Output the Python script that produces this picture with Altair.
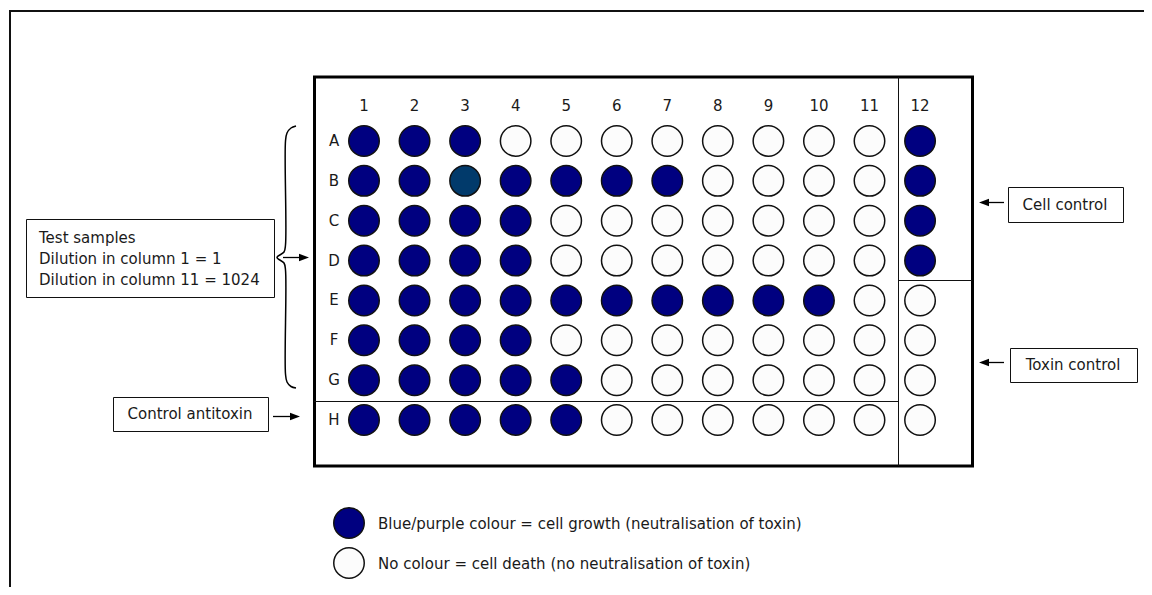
import altair as alt
import pandas as pd

# ---------------- data ----------------
rows = ["A", "B", "C", "D", "E", "F", "G", "H"]
cols = [1, 2, 3, 4, 5, 6, 7, 8, 9, 10, 11, 12]
# 1 = blue/purple (cell growth), 2 = darker teal-blue well, 0 = no colour
row_A = [1, 1, 1, 0, 0, 0, 0, 0, 0, 0, 0, 1]
row_B = [1, 1, 2, 1, 1, 1, 1, 0, 0, 0, 0, 1]
row_C = [1, 1, 1, 1, 0, 0, 0, 0, 0, 0, 0, 1]
row_D = [1, 1, 1, 1, 0, 0, 0, 0, 0, 0, 0, 1]
row_E = [1, 1, 1, 1, 1, 1, 1, 1, 1, 1, 0, 0]
row_F = [1, 1, 1, 1, 0, 0, 0, 0, 0, 0, 0, 0]
row_G = [1, 1, 1, 1, 1, 0, 0, 0, 0, 0, 0, 0]
row_H = [1, 1, 1, 1, 1, 0, 0, 0, 0, 0, 0, 0]
plate = [row_A, row_B, row_C, row_D, row_E, row_F, row_G, row_H]

state_names = ["none", "growth", "growth_dark"]
state_colors = ["#fcfcfc", "#000080", "#013a6b"]

test_lines = ["Test samples", "Dilution in column 1 = 1", "Dilution in column 11 = 1024"]
label_antitoxin = "Control antitoxin"
label_cell = "Cell control"
label_toxin = "Toxin control"
legend_texts = ["Blue/purple colour = cell growth (neutralisation of toxin)",
                "No colour = cell death (no neutralisation of toxin)"]
legend_states = ["growth", "none"]

FONT = "DejaVu Sans"
FS = 15
TXT = "#1a1a1a"

# ---------------- layout helpers (page pixel -> plate units) ----------------
C0, CW = 313.45, 50.55   # column unit
R0, RH = 141.0, 39.86    # row unit


def X(px):
    return (px - C0) / CW


def Y(py):
    return (py - R0) / RH


W, H = 1136, 579
xs = alt.Scale(domain=[X(8), X(8 + W)], nice=False, zero=False)
ys = alt.Scale(domain=[Y(8), Y(8 + H)], nice=False, zero=False, reverse=True)


def xq(f="x"):
    return alt.X(f"{f}:Q", scale=xs, axis=None)


def yq(f="y"):
    return alt.Y(f"{f}:Q", scale=ys, axis=None)


# ---------------- tables ----------------
wells = pd.DataFrame([
    {"col": c, "row": ri, "state": state_names[plate[ri][ci]]}
    for ri in range(len(rows)) for ci, c in enumerate(cols)
])

col_lab = pd.DataFrame({"x": cols, "y": [Y(106)] * len(cols), "t": [str(c) for c in cols]})
row_lab = pd.DataFrame({"x": [X(334)] * len(rows), "y": list(range(len(rows))), "t": rows})

frame = pd.DataFrame({"x": [X(10)], "x2": [X(1300)], "y": [Y(11)], "y2": [Y(700)]})
plate_rect = pd.DataFrame({"x": [X(314.5)], "x2": [X(972.5)], "y": [Y(77)], "y2": [Y(466)]})
boxes = pd.DataFrame({
    "x": [X(26.5), X(113.5), X(1008.5), X(1010.5)],
    "x2": [X(274.5), X(268.5), X(1123.5), X(1137.5)],
    "y": [Y(219.5), Y(397.5), Y(187.5), Y(348.5)],
    "y2": [Y(297.5), Y(431.5), Y(222.5), Y(382.5)],
})

dividers = pd.DataFrame({
    "x": [X(898.5), X(898.5), X(314)],
    "x2": [X(898.5), X(972), X(898.5)],
    "y": [Y(77), Y(280.5), Y(401.5)],
    "y2": [Y(466), Y(280.5), Y(401.5)],
})

shafts = pd.DataFrame({
    "x": [X(283), X(273), X(987), X(987)],
    "x2": [X(301), X(292), X(1004), X(1004)],
    "y": [Y(257.5), Y(416.5), Y(202.5), Y(362.5)],
    "y2": [Y(257.5), Y(416.5), Y(202.5), Y(362.5)],
})
heads_r = pd.DataFrame({"x": [X(304), X(295)], "y": [Y(257.5), Y(416.5)]})
heads_l = pd.DataFrame({"x": [X(984), X(984)], "y": [Y(202.5), Y(362.5)]})

brace_px = [(296, 126), (291, 128), (287, 133), (285.5, 141), (285.5, 245),
            (284, 252), (277, 257.5), (284, 263), (285.5, 270), (285.5, 374),
            (287, 382), (291, 386.5), (296, 388)]
brace = pd.DataFrame({"x": [X(a) for a, b in brace_px], "y": [Y(b) for a, b in brace_px],
                      "o": list(range(len(brace_px)))})

test_txt = pd.DataFrame({"x": [X(39)] * 3, "y": [Y(238), Y(259), Y(280)], "t": test_lines})
box_txt = pd.DataFrame({"x": [X(190), X(1065), X(1073)],
                        "y": [Y(414), Y(205), Y(365)],
                        "t": [label_antitoxin, label_cell, label_toxin]})

leg_pts = pd.DataFrame({"x": [X(349), X(349)], "y": [Y(523), Y(563)], "state": legend_states})
leg_txt = pd.DataFrame({"x": [X(378), X(378)], "y": [Y(524), Y(564)], "t": legend_texts})

color_scale = alt.Scale(domain=state_names, range=state_colors)

# ---------------- layers ----------------
l_frame = alt.Chart(frame).mark_rect(fill="white", stroke="#111", strokeWidth=2, clip=True).encode(
    x=xq(), x2="x2", y=yq(), y2="y2")
l_plate = alt.Chart(plate_rect).mark_rect(fill="white", stroke="#000", strokeWidth=3).encode(
    x=xq(), x2="x2", y=yq(), y2="y2")
l_div = alt.Chart(dividers).mark_rule(color="#111", strokeWidth=1).encode(
    x=xq(), x2="x2", y=yq(), y2="y2")
l_boxes = alt.Chart(boxes).mark_rect(fill="white", stroke="#111", strokeWidth=1).encode(
    x=xq(), x2="x2", y=yq(), y2="y2")
l_shafts = alt.Chart(shafts).mark_rule(color="#000", strokeWidth=1.3).encode(
    x=xq(), x2="x2", y=yq(), y2="y2")
l_hr = alt.Chart(heads_r).mark_point(shape="M-1,-0.75L1,0L-1,0.75Z", size=100, filled=True,
                                     color="#000", opacity=1).encode(x=xq(), y=yq())
l_hl = alt.Chart(heads_l).mark_point(shape="M1,-0.75L-1,0L1,0.75Z", size=100, filled=True,
                                     color="#000", opacity=1).encode(x=xq(), y=yq())
l_brace = alt.Chart(brace).mark_line(color="#000", strokeWidth=1.5, interpolate="catmull-rom").encode(
    x=xq(), y=yq(), order="o:Q")

l_wells = alt.Chart(wells).mark_point(shape="circle", size=930, filled=True, opacity=1,
                                      stroke="#111", strokeWidth=1.5).encode(
    x=alt.X("col:Q", scale=xs, axis=None),
    y=alt.Y("row:Q", scale=ys, axis=None),
    fill=alt.Fill("state:N", scale=color_scale, legend=None))

l_leg = alt.Chart(leg_pts).mark_point(shape="circle", size=930, filled=True, opacity=1,
                                      stroke="#111", strokeWidth=1.5).encode(
    x=xq(), y=yq(), fill=alt.Fill("state:N", scale=color_scale, legend=None))

txt_kw = dict(font=FONT, fontSize=FS, color=TXT, baseline="middle")
l_collab = alt.Chart(col_lab).mark_text(align="center", **txt_kw).encode(x=xq(), y=yq(), text="t:N")
l_rowlab = alt.Chart(row_lab).mark_text(align="center", **txt_kw).encode(x=xq(), y=yq(), text="t:N")
l_test = alt.Chart(test_txt).mark_text(align="left", **txt_kw).encode(x=xq(), y=yq(), text="t:N")
l_boxtxt = alt.Chart(box_txt).mark_text(align="center", **txt_kw).encode(x=xq(), y=yq(), text="t:N")
l_legtxt = alt.Chart(leg_txt).mark_text(align="left", **txt_kw).encode(x=xq(), y=yq(), text="t:N")

chart = alt.layer(
    l_frame, l_plate, l_div, l_boxes, l_shafts, l_hr, l_hl, l_brace,
    l_wells, l_leg, l_collab, l_rowlab, l_test, l_boxtxt, l_legtxt
).properties(
    width=W, height=H, padding=0, autosize=alt.AutoSizeParams(type="none"),
    background="white"
).configure_view(stroke=None)

chart.save("out.html", embed_options={"renderer": "svg", "actions": False})
